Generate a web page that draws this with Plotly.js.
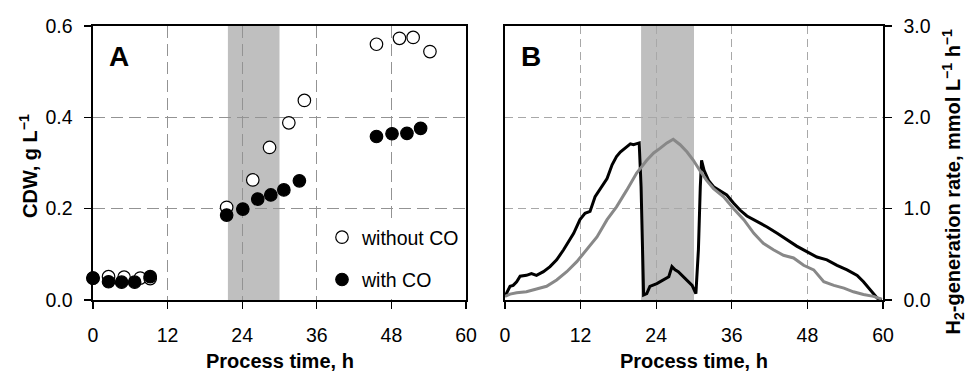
<!DOCTYPE html>
<html>
<head>
<meta charset="utf-8">
<script src="https://cdn.plot.ly/plotly-3.0.1.min.js"></script>
<style>html,body{margin:0;padding:0;background:#fff;}#chart{width:966px;height:374px;}</style>
</head>
<body>
<div id="chart"></div>
<script>
// Panel A: cell dry weight (g/L) vs process time (h)
const timeWithoutCO = [0, 2.5, 5.0, 7.6, 9.2, 21.5, 25.7, 28.4, 31.5, 34.0, 45.6, 49.3, 51.5, 54.2];
const cdwWithoutCO  = [0.048, 0.051, 0.050, 0.048, 0.047, 0.203, 0.263, 0.334, 0.388, 0.437, 0.560, 0.573, 0.575, 0.544];
const timeWithCO = [0, 2.5, 4.6, 6.7, 9.2, 21.5, 24.1, 26.5, 28.6, 30.7, 33.2, 45.6, 48.1, 50.5, 52.7];
const cdwWithCO  = [0.048, 0.040, 0.039, 0.039, 0.051, 0.186, 0.199, 0.221, 0.230, 0.241, 0.261, 0.358, 0.364, 0.365, 0.376];

// Panel B: H2 generation rate (mmol/L/h)
const h2TimeBlack = [0, 0.8, 1.3, 1.85, 2.4, 3.4, 4.2, 5.0, 6.1, 7.15, 8.2, 9.3, 10.9, 11.9, 12.7, 13.5, 14.3, 15.1, 16.2, 17.0, 17.7, 18.3, 19.1, 19.9, 20.4, 20.9, 21.3, 21.6, 22.0, 22.5, 23.0, 24.1, 25.2, 26.0, 26.5, 27.0, 27.5, 28.1, 28.9, 29.7, 30.3, 30.7, 31.0, 31.2, 31.6, 32.3, 33.1, 34.2, 35.2, 36.3, 37.3, 38.4, 40.0, 41.6, 43.2, 44.8, 46.3, 47.9, 49.5, 51.1, 52.7, 54.3, 55.9, 56.9, 58.0, 59.1, 59.8];
const h2RateBlack = [0.04, 0.15, 0.16, 0.20, 0.26, 0.27, 0.29, 0.27, 0.31, 0.365, 0.44, 0.55, 0.73, 0.88, 0.95, 0.97, 1.13, 1.22, 1.33, 1.48, 1.57, 1.62, 1.66, 1.71, 1.70, 1.71, 1.72, 1.24, 0.055, 0.07, 0.15, 0.18, 0.22, 0.255, 0.365, 0.33, 0.31, 0.27, 0.22, 0.16, 0.07, 0.55, 1.24, 1.53, 1.42, 1.31, 1.24, 1.19, 1.15, 1.06, 0.985, 0.92, 0.86, 0.80, 0.73, 0.66, 0.59, 0.53, 0.47, 0.44, 0.38, 0.33, 0.27, 0.20, 0.11, 0.02, 0.0];
const h2TimeGrey = [0, 0.8, 1.85, 3.4, 5.0, 6.6, 8.2, 9.8, 11.4, 13.0, 14.6, 16.2, 17.7, 19.3, 20.9, 22.5, 23.6, 24.6, 25.7, 26.7, 27.8, 28.9, 29.9, 31.0, 32.0, 33.1, 34.7, 36.3, 37.9, 39.5, 41.0, 42.6, 44.2, 45.8, 47.4, 49.0, 50.6, 52.2, 53.8, 55.3, 56.9, 58.5, 59.8];
const h2RateGrey = [0.04, 0.065, 0.08, 0.09, 0.12, 0.15, 0.22, 0.31, 0.42, 0.55, 0.69, 0.88, 1.02, 1.20, 1.39, 1.53, 1.61, 1.66, 1.72, 1.76, 1.70, 1.62, 1.53, 1.41, 1.31, 1.22, 1.13, 1.00, 0.88, 0.73, 0.62, 0.55, 0.49, 0.46, 0.38, 0.33, 0.20, 0.16, 0.13, 0.09, 0.06, 0.04, 0.01];

// shaded period (h)
const shadeA = [21.7, 30.0];
const shadeB = [21.6, 30.0];

const xTicks = [0, 12, 24, 36, 48, 60];
const FONT = 'Liberation Sans, Arial, sans-serif';

const traces = [
  {x: timeWithoutCO, y: cdwWithoutCO, type: 'scatter', mode: 'markers', name: 'without CO',
   xaxis: 'x', yaxis: 'y', cliponaxis: false, legendgroup: 'a',
   marker: {size: 12.5, color: '#ffffff', line: {color: '#000', width: 1.2}}},
  {x: timeWithCO, y: cdwWithCO, type: 'scatter', mode: 'markers', name: 'with CO',
   xaxis: 'x', yaxis: 'y', cliponaxis: false, legendgroup: 'b',
   marker: {size: 12.5, color: '#000000', line: {color: '#000', width: 1.2}}},
  {x: h2TimeBlack, y: h2RateBlack, type: 'scatter', mode: 'lines', showlegend: false,
   xaxis: 'x2', yaxis: 'y2', line: {color: '#000', width: 3}},
  {x: h2TimeGrey, y: h2RateGrey, type: 'scatter', mode: 'lines', showlegend: false,
   xaxis: 'x2', yaxis: 'y2', line: {color: '#888888', width: 3}}
];

const yDom = [74/374, 348/374];
function xax(dom, anchor, gridcolor, dash, gw) {
  return {domain: dom, anchor: anchor, range: [0, 60], tickvals: xTicks, ticktext: xTicks.map(String),
    showline: true, mirror: true, linecolor: '#000', linewidth: 1.6,
    ticks: 'outside', ticklen: 7, tickwidth: 1.4, tickcolor: '#000', ticklabelstandoff: 10,
    showgrid: true, gridcolor: gridcolor, griddash: dash, gridwidth: gw, zeroline: false,
    tickfont: {family: FONT, size: 19.5, color: '#000'}, automargin: false};
}

const layout = {
  width: 966, height: 374,
  margin: {l: 0, r: 0, t: 0, b: 0},
  paper_bgcolor: '#fff', plot_bgcolor: '#fff',
  font: {family: FONT, color: '#000'},
  xaxis: xax([93/966, 466/966], 'y', '#939393', '12px,6px', 1.3),
  xaxis2: xax([505/966, 883/966], 'y2', '#a8a8a8', '8px,5px', 1),
  yaxis: {domain: yDom, anchor: 'x', range: [0, 0.6], dtick: 0.2, tickformat: '.1f',
    showline: true, mirror: true, linecolor: '#000', linewidth: 1.6,
    ticks: 'outside', ticklen: 7, tickwidth: 1.4, tickcolor: '#000', ticklabelstandoff: 8,
    showgrid: true, gridcolor: '#939393', griddash: '12px,6px', gridwidth: 1.3, zeroline: false,
    tickfont: {family: FONT, size: 19.5, color: '#000'}, automargin: false},
  yaxis2: {domain: yDom, anchor: 'x2', side: 'right', range: [0, 3], dtick: 1, tickformat: '.1f',
    showline: true, mirror: true, linecolor: '#000', linewidth: 1.6,
    ticks: 'outside', ticklen: 7, tickwidth: 1.4, tickcolor: '#000', ticklabelstandoff: 8,
    showgrid: true, gridcolor: '#a8a8a8', griddash: '8px,5px', gridwidth: 1, zeroline: false,
    tickfont: {family: FONT, size: 19.5, color: '#000'}, automargin: false},
  showlegend: true,
  legend: {x: 322/966, y: 1 - 218/374, xanchor: 'left', yanchor: 'top', bgcolor: '#fff',
    borderwidth: 0, traceorder: 'grouped', tracegroupgap: 14,
    font: {family: FONT, size: 19.5, color: '#000'}},
  shapes: [
    {type: 'rect', xref: 'x', yref: 'y domain', x0: shadeA[0], x1: shadeA[1], y0: 0, y1: 1,
     fillcolor: '#bfbfbf', line: {width: 0}, layer: 'below'},
    {type: 'rect', xref: 'x2', yref: 'y2 domain', x0: shadeB[0], x1: shadeB[1], y0: 0, y1: 1,
     fillcolor: '#bfbfbf', line: {width: 0}, layer: 'below'}
  ],
  annotations: [
    {text: '<b>A</b>', xref: 'paper', yref: 'paper', x: 119/966, y: 1 - 57/374, showarrow: false,
     xanchor: 'center', yanchor: 'middle', font: {family: FONT, size: 28, color: '#000'}},
    {text: '<b>B</b>', xref: 'paper', yref: 'paper', x: 531/966, y: 1 - 57/374, showarrow: false,
     xanchor: 'center', yanchor: 'middle', font: {family: FONT, size: 28, color: '#000'}},
    {text: '<b>Process time, h</b>', xref: 'paper', yref: 'paper', x: 279.5/966, y: 1 - 361/374, showarrow: false,
     xanchor: 'center', yanchor: 'middle', font: {family: FONT, size: 20, color: '#000'}},
    {text: '<b>Process time, h</b>', xref: 'paper', yref: 'paper', x: 694/966, y: 1 - 361/374, showarrow: false,
     xanchor: 'center', yanchor: 'middle', font: {family: FONT, size: 20, color: '#000'}},
    {text: '<b>CDW, g L<sup>−1</sup></b>', xref: 'paper', yref: 'paper', x: 28.5/966, y: 1 - 166.5/374, showarrow: false,
     textangle: -90, xanchor: 'center', yanchor: 'middle', font: {family: FONT, size: 20, color: '#000'}},
    {text: '<b>H<sub>2</sub>-generation rate, mmol L<sup>−1</sup> h<sup>−1</sup></b>', xref: 'paper', yref: 'paper',
     x: 953/966, y: 1 - 181.5/374, showarrow: false,
     textangle: -90, xanchor: 'center', yanchor: 'middle', font: {family: FONT, size: 20, color: '#000'}}
  ]
};

Plotly.newPlot('chart', traces, layout, {displayModeBar: false, staticPlot: true});
</script>
</body>
</html>
